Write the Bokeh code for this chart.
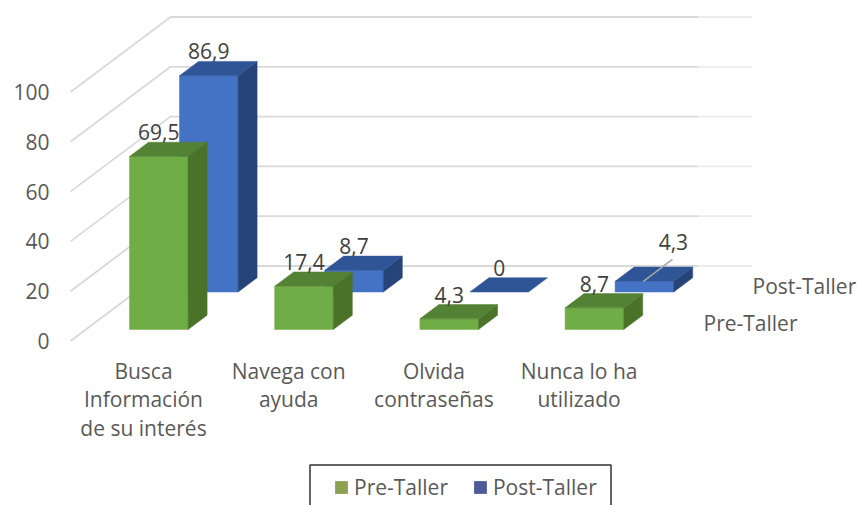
from bokeh.embed import file_html
from bokeh.resources import INLINE
from bokeh.plotting import figure
from bokeh.models import Range1d, LinearAxis, FixedTicker, Legend, LegendItem
from bokeh.core.properties import value

categories = ["Busca\nInformación\nde su interés", "Navega con\nayuda", "Olvida\ncontraseñas", "Nunca lo ha\nutilizado"]
pre_taller = [69.5, 17.4, 4.3, 8.7]
post_taller = [86.9, 8.7, 0.0, 4.3]
pre_labels = ["69,5", "17,4", "4,3", "8,7"]
post_labels = ["86,9", "8,7", "0", "4,3"]
y_ticks = [0, 20, 40, 60, 80, 100]

FONT = "Open Sans"
W, H = 857, 505
LEFT = 60
PX = 2.49                # pixels per value unit
BASE_PY = 329.0          # page y of the value 0 of the front series
X0, STEP, BAR_W = 113.7, 145.2, 58.6
DX, DY = 100.0, 75.0     # screen shift across the full depth of the chart
WALL_L, WALL_R, WALL_FADE = 70.0, 698.0, 752.0
BAR_D = 0.19


def u(py):
    """page y in pixels to primary y-range units"""
    return (BASE_PY - py) / PX


def screen(x, d, v):
    """oblique projection: x along the categories, d depth (0-1), v value"""
    return x + DX * d, v + u(340.5 - DY * d)


p = figure(width=W, height=H, output_backend="svg", toolbar_location=None,
           x_axis_type=None, y_axis_type=None,
           x_range=Range1d(LEFT, W), y_range=Range1d(u(H), u(0)),
           min_border_left=LEFT, min_border_right=0, min_border_top=0, min_border_bottom=0)
p.outline_line_color = None
p.background_fill_color = "white"

p.extra_y_ranges["front"] = Range1d((340.5 - H) / PX, 340.5 / PX)
ax = LinearAxis(y_range_name="front", ticker=FixedTicker(ticks=y_ticks))
ax.axis_line_color = None
ax.major_tick_line_color = None
ax.minor_tick_line_color = None
ax.major_tick_out = 0
ax.major_tick_in = 0
ax.major_label_standoff = 11
ax.major_label_text_font = FONT
ax.major_label_text_font_size = "21px"
ax.major_label_text_color = "#595959"
p.add_layout(ax, "left")

# walls of the 3D frame
for t in y_ticks:
    x0, y0 = screen(WALL_L, 0, t)
    x1, y1 = screen(WALL_L, 1, t)
    p.line([x0, x1, WALL_R], [y0, y1, y1], line_color="#d9d9d9", line_width=1.8)
    p.line([WALL_R, WALL_FADE], [y1, y1], line_color="#ececec", line_width=1.8)


def bars(values, d0, front, top, side):
    d1 = d0 + BAR_D
    for i, v in enumerate(values):
        x = X0 + i * STEP
        a = screen(x, d0, 0); b = screen(x + BAR_W, d0, 0)
        c = screen(x + BAR_W, d0, v); e = screen(x, d0, v)
        f = screen(x + BAR_W, d1, v); g = screen(x, d1, v); h = screen(x + BAR_W, d1, 0)
        if v > 0:
            p.patch([a[0], b[0], c[0], e[0]], [a[1], b[1], c[1], e[1]], fill_color=front, line_color=front, line_width=0.5)
            p.patch([b[0], h[0], f[0], c[0]], [b[1], h[1], f[1], c[1]], fill_color=side, line_color=side, line_width=0.5)
        p.patch([e[0], c[0], f[0], g[0]], [e[1], c[1], f[1], g[1]], fill_color=top, line_color=top, line_width=0.5)


D_PRE, D_POST = 0.153, 0.653
bars(post_taller, D_POST, "#4472c4", "#2f5597", "#264478")
bars(pre_taller, D_PRE, "#70ad47", "#548235", "#4a7229")

# data labels: centred over the front face, just above the back edge of the top
lab_x, lab_y, lab_t = [], [], []
for vals, labs, d in ((pre_taller, pre_labels, D_PRE), (post_taller, post_labels, D_POST)):
    for i, (v, s) in enumerate(zip(vals, labs)):
        sx, _ = screen(X0 + i * STEP + BAR_W / 2, d, v)
        _, sy = screen(X0, d + BAR_D, v)
        lab_x.append(sx)
        lab_y.append(sy + 10 / PX)
        lab_t.append(s)
# the last label is moved away and tied to its bar with a leader line
lx, ly = screen(X0 + 3 * STEP + BAR_W / 2, D_POST, post_taller[3])
lab_x[-1] = lx + 29
lab_y[-1] = lab_y[-1] + 15 / PX
p.line([lx - 1, lx + 28], [ly, ly + 22 / PX], line_color="#a6a6a6", line_width=1.5)
p.text(lab_x, lab_y, text=lab_t, text_font=value(FONT), text_font_size="21px", text_color="#404040",
       text_align="center", text_baseline="alphabetic")

# category labels
cat_x = [X0 + i * STEP + BAR_W / 2 for i in range(len(categories))]
p.text(cat_x, [u(356)] * len(categories), text=categories, text_font=value(FONT), text_font_size="21px",
       text_color="#595959", text_align="center", text_baseline="top", text_line_height=1.02)

# series (depth) labels
p.text([703, 752], [u(322), u(285)], text=["Pre-Taller", "Post-Taller"], text_font=value(FONT),
       text_font_size="21px", text_color="#595959", text_align="left", text_baseline="middle")

# legend
p.line([309.5, 309.5, 610.5, 610.5], [u(505), u(464.5), u(464.5), u(505)], line_color="#333333", line_width=1.5)
nan = float("nan")
r1 = p.quad(left=[nan], right=[nan], top=[nan], bottom=[nan], fill_color="#8ca252", line_color=None)
r2 = p.quad(left=[nan], right=[nan], top=[nan], bottom=[nan], fill_color="#4e5a9b", line_color=None)
leg = Legend(items=[LegendItem(label=value("Pre-Taller"), renderers=[r1]),
                    LegendItem(label=value("Post-Taller"), renderers=[r2])],
             orientation="horizontal", location=(273, 4), padding=0, margin=0, spacing=24,
             glyph_width=16, glyph_height=16, label_standoff=5, border_line_color=None,
             background_fill_alpha=0, label_text_font=FONT, label_text_font_size="21px",
             label_text_color="#595959")
p.add_layout(leg, "center")

open("out.html", "w").write(file_html(p, INLINE))
